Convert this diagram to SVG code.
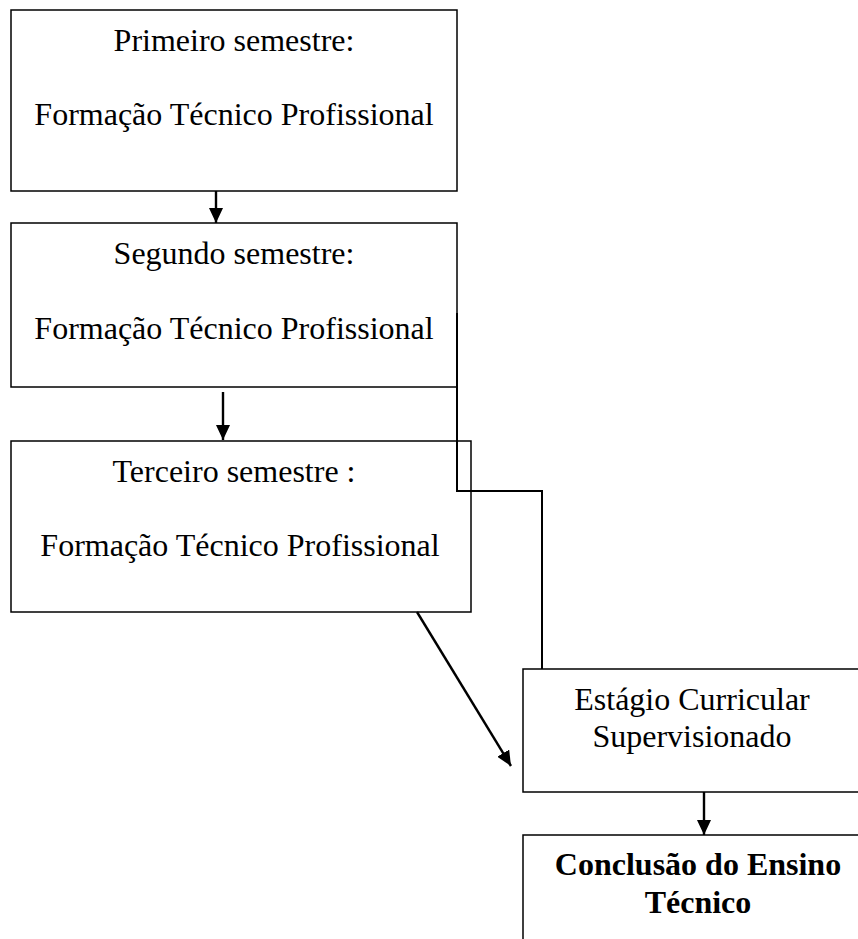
<svg xmlns="http://www.w3.org/2000/svg" width="858" height="939" viewBox="0 0 858 939">
<style>
.box{fill:#fff;stroke:#000;stroke-width:1.5}
.t{font-family:"Liberation Serif","Times New Roman",serif;font-size:32px;fill:#000;text-anchor:middle}
.b{font-weight:bold}
.c{fill:none;stroke:#000;stroke-width:2.4}
.e{fill:none;stroke:#000;stroke-width:2}
</style>
<defs>
<marker id="ah" markerWidth="15" markerHeight="14" refX="15" refY="7" orient="auto" markerUnits="userSpaceOnUse">
<path d="M0,0 L15,7 L0,14 Z" fill="#000"/>
</marker>
</defs>
<g id="n1">
<rect class="box" x="11" y="10" width="446" height="181"/>
<text class="t" x="234" y="51">Primeiro semestre:</text>
<text class="t" x="234" y="125">Formação Técnico Profissional</text>
</g>
<g id="n2">
<rect class="box" x="11" y="223" width="446" height="164"/>
<text class="t" x="234" y="264">Segundo semestre:</text>
<text class="t" x="234" y="339">Formação Técnico Profissional</text>
</g>
<g id="n3">
<rect class="box" x="11" y="441" width="460" height="171"/>
<text class="t" x="234" y="482">Terceiro semestre :</text>
<text class="t" x="240" y="556">Formação Técnico Profissional</text>
</g>
<g id="n4">
<rect class="box" x="523" y="669" width="345" height="123"/>
<text class="t" x="692" y="710">Estágio Curricular</text>
<text class="t" x="692" y="747">Supervisionado</text>
</g>
<g id="n5">
<rect class="box" x="523" y="835" width="345" height="120"/>
<text class="t b" x="698" y="875">Conclusão do Ensino</text>
<text class="t b" x="698" y="913">Técnico</text>
</g>
<g id="connectors">
<line class="c" x1="216" y1="191" x2="216" y2="223" marker-end="url(#ah)"/>
<line class="c" x1="223" y1="392" x2="223" y2="440" marker-end="url(#ah)"/>
<line class="c" x1="417" y1="612" x2="511" y2="766" marker-end="url(#ah)"/>
<line class="c" x1="704" y1="792" x2="704" y2="835" marker-end="url(#ah)"/>
<polyline class="e" points="457,313 457,491 542,491 542,669"/>
</g>
</svg>
